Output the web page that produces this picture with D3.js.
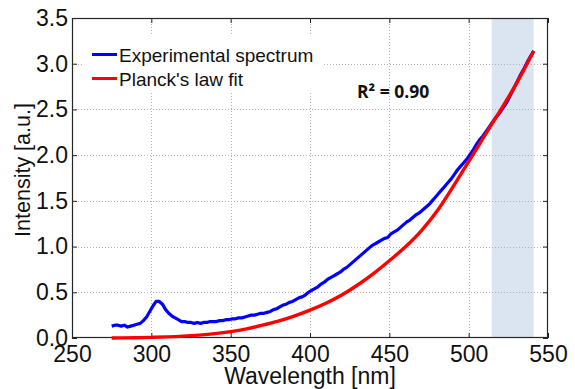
<!DOCTYPE html>
<html>
<head>
<meta charset="utf-8">
<script src="https://cdn.jsdelivr.net/npm/d3@7"></script>
<style>
  html, body { margin: 0; padding: 0; background: #fff; }
  svg { display: block; }
  text { font-family: "Liberation Sans", Arial, sans-serif; fill: #111; }
</style>
</head>
<body>
<svg id="chart" width="575" height="389"></svg>
<script>
// ---- Data ----
const xTicks = [250, 300, 350, 400, 450, 500, 550];
const yTicks = [0, 0.5, 1.0, 1.5, 2.0, 2.5, 3.0, 3.5];
const xTickLabels = ["250", "300", "350", "400", "450", "500", "550"];
const yTickLabels = ["0.0", "0.5", "1.0", "1.5", "2.0", "2.5", "3.0", "3.5"];

// Experimental spectrum sampled every 2 nm from 275 to 541 nm
const expWavelength = d3.range(275, 542, 2);
const expIntensity = [
  0.13,0.14,0.14,0.13,0.14,0.12,0.13,0.14,0.15,0.16,
  0.19,0.23,0.29,0.35,0.40,0.40,0.37,0.31,0.27,0.24,
  0.22,0.20,0.18,0.18,0.17,0.17,0.16,0.17,0.16,0.17,
  0.17,0.18,0.18,0.18,0.19,0.19,0.20,0.20,0.21,0.21,
  0.22,0.22,0.23,0.24,0.25,0.25,0.26,0.27,0.27,0.28,
  0.29,0.31,0.32,0.34,0.36,0.37,0.39,0.40,0.42,0.44,
  0.45,0.47,0.50,0.52,0.54,0.56,0.59,0.61,0.64,0.66,
  0.68,0.70,0.72,0.75,0.77,0.80,0.83,0.86,0.89,0.92,
  0.95,0.98,1.01,1.03,1.05,1.07,1.09,1.10,1.14,1.16,
  1.18,1.21,1.24,1.27,1.29,1.32,1.35,1.37,1.40,1.43,
  1.46,1.50,1.54,1.58,1.62,1.66,1.70,1.74,1.79,1.84,
  1.88,1.92,1.96,2.01,2.06,2.12,2.17,2.21,2.26,2.31,
  2.36,2.41,2.45,2.50,2.55,2.61,2.68,2.75,2.82,2.89,
  2.95,3.02,3.08,3.14
];

// Planck's law fit
const fitWavelength = [275,280,290,300,310,320,330,340,350,360,370,380,390,400,410,420,430,440,450,460,470,480,490,500,510,520,530,541];
const fitIntensity  = [0.0,0.001,0.003,0.007,0.012,0.02,0.032,0.048,0.07,0.10,0.14,0.185,0.24,0.305,0.38,0.47,0.58,0.705,0.845,0.995,1.17,1.385,1.65,1.93,2.21,2.49,2.78,3.14];

// Fit window (shaded)
const fitWindow = [514.5, 541];

const seriesNames = ["Experimental spectrum", "Planck's law fit"];
const seriesColors = ["#0000ff", "#ff0000"];
const annotation = "R² = 0.90";

// ---- Layout ----
const m = { left: 72, right: 548, top: 18, bottom: 338 };

const svg = d3.select("#chart");
const x = d3.scaleLinear().domain([250, 550]).range([m.left, m.right]);
const y = d3.scaleLinear().domain([0, 3.5]).range([m.bottom, m.top]);

// shaded fit window
svg.append("rect")
  .attr("x", x(fitWindow[0]))
  .attr("y", m.top)
  .attr("width", x(fitWindow[1]) - x(fitWindow[0]))
  .attr("height", m.bottom - m.top)
  .attr("fill", "#dbe5f1");

// gridlines
const grid = svg.append("g").attr("stroke", "#b3b3b3").attr("stroke-width", 1).attr("stroke-dasharray", "1,2");
grid.selectAll("line.v").data(xTicks.slice(1, -1)).join("line")
  .attr("x1", d => Math.round(x(d)) + 0.5).attr("x2", d => Math.round(x(d)) + 0.5)
  .attr("y1", m.top).attr("y2", m.bottom);
grid.selectAll("line.h").data(yTicks.slice(1, -1)).join("line")
  .attr("y1", d => Math.round(y(d)) + 0.5).attr("y2", d => Math.round(y(d)) + 0.5)
  .attr("x1", m.left).attr("x2", m.right);

// legend background (white box hides gridlines)
svg.append("rect").attr("x", 82).attr("y", 35).attr("width", 240).attr("height", 57).attr("fill", "#fff");

// axes
const fmtX = (d, i) => xTickLabels[i];
const fmtY = (d, i) => yTickLabels[i];
const axStyle = g => {
  g.select(".domain").remove();
  g.selectAll(".tick line").attr("stroke", "#262626");
};
svg.append("g").attr("transform", `translate(0,${m.bottom})`)
  .call(d3.axisBottom(x).tickValues(xTicks).tickFormat(fmtX).tickSizeInner(-5).tickSizeOuter(0).tickPadding(8))
  .call(axStyle)
  .call(g => g.selectAll("text").attr("font-size", 23).attr("fill", "#111").attr("font-family", "Liberation Sans, Arial, sans-serif"));
svg.append("g").attr("transform", `translate(${m.left},0)`)
  .call(d3.axisLeft(y).tickValues(yTicks).tickFormat(fmtY).tickSizeInner(-5).tickSizeOuter(0).tickPadding(4))
  .call(axStyle)
  .call(g => g.selectAll("text").attr("font-size", 23).attr("fill", "#111").attr("font-family", "Liberation Sans, Arial, sans-serif"));
svg.append("g").attr("transform", `translate(0,${m.top})`)
  .call(d3.axisTop(x).tickValues(xTicks).tickFormat("").tickSizeInner(-5).tickSizeOuter(0))
  .call(axStyle);
svg.append("g").attr("transform", `translate(${m.right},0)`)
  .call(d3.axisRight(y).tickValues(yTicks).tickFormat("").tickSizeInner(-5).tickSizeOuter(0))
  .call(axStyle);

// frame
svg.append("rect").attr("x", m.left + 0.5).attr("y", m.top + 0.5)
  .attr("width", m.right - m.left - 1).attr("height", m.bottom - m.top - 1)
  .attr("fill", "none").attr("stroke", "#262626").attr("stroke-width", 1.2);

// lines
const expData = expWavelength.map((w, i) => [w, expIntensity[i]]);
const fitData = fitWavelength.map((w, i) => [w, fitIntensity[i]]);
svg.append("path").datum(expData)
  .attr("d", d3.line().x(d => x(d[0])).y(d => y(d[1])).curve(d3.curveLinear))
  .attr("fill", "none").attr("stroke", seriesColors[0]).attr("stroke-width", 3.2).attr("stroke-linejoin", "round");
svg.append("path").datum(fitData)
  .attr("d", d3.line().x(d => x(d[0])).y(d => y(d[1])).curve(d3.curveMonotoneX))
  .attr("fill", "none").attr("stroke", seriesColors[1]).attr("stroke-width", 3.4).attr("stroke-linecap", "butt");

// legend
const leg = svg.append("g");
seriesNames.forEach((name, i) => {
  const ly = 54.5 + i * 24;
  leg.append("line").attr("x1", 92).attr("x2", 117).attr("y1", ly).attr("y2", ly)
    .attr("stroke", seriesColors[i]).attr("stroke-width", 3);
  leg.append("text").attr("x", 119).attr("y", ly + 7).attr("font-size", 19).text(name);
});

// R² annotation
svg.append("text").attr("x", 357).attr("y", 97.5)
  .attr("font-weight", "bold").attr("font-size", 17.5).style("font-family", "'Open Sans', sans-serif")
  .text(annotation);

// axis titles
svg.append("text").attr("x", (m.left + m.right) / 2).attr("y", 384)
  .attr("text-anchor", "middle").attr("font-size", 23).text("Wavelength [nm]");
svg.append("text").attr("transform", `translate(30,170) rotate(-90)`)
  .attr("text-anchor", "middle").attr("font-size", 21.5).text("Intensity [a.u.]");
</script>
</body>
</html>
